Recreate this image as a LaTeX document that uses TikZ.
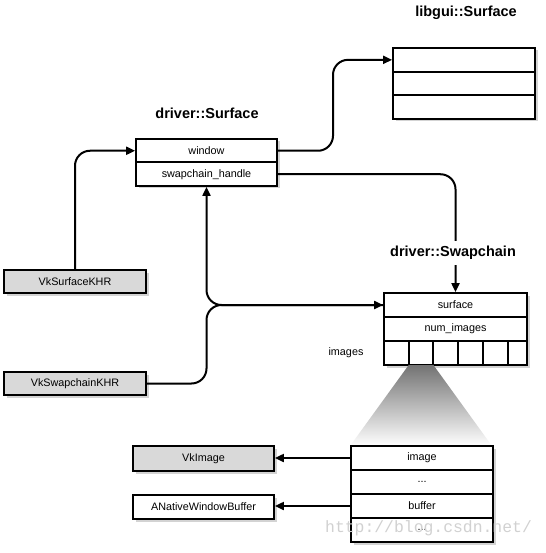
\documentclass[tikz,border=0pt]{standalone}
\usepackage{fontspec}
\setmainfont{Liberation Sans}
\newfontfamily\wmfont{Liberation Mono}
\usetikzlibrary{shadows,arrows.meta,calc}
\begin{document}
\begin{tikzpicture}[x=1pt,y=-1pt,
  frame/.style={draw, line width=2pt, fill=white, inner sep=0pt, outer sep=0pt,
    drop shadow={shadow xshift=2.5pt, shadow yshift=-2.5pt, opacity=0.35}},
  row/.style={draw, line width=2pt, inner sep=0pt, outer sep=0pt, minimum width=#1,
    font=\fontsize{10.8}{12}\selectfont, text=black},
  row/.default=141pt,
  ttl/.style={font=\fontsize{14.5}{17}\bfseries\selectfont, text=black},
  handle/.style={draw, line width=2pt, inner sep=0pt, outer sep=0pt, minimum width=142pt,
    minimum height=23pt, font=\fontsize{10.8}{12}\selectfont,
    drop shadow={shadow xshift=2.5pt, shadow yshift=-2.5pt, opacity=0.35}},
  conn/.style={line width=2pt, rounded corners=15pt, shorten >=0.9pt,
    -{Triangle[length=9pt,width=8pt]}}
]
\useasboundingbox (0,0) rectangle (545,553);

% libgui::Surface
\node[ttl] (tlib) at (466,13) {libgui::Surface};
\node[frame, minimum width=142pt, minimum height=71pt] (lib) at (464,83.5) {};
\node[row=142pt, minimum height=23.67pt, anchor=north] (lib1) at (lib.north) {};
\node[row=142pt, minimum height=23.67pt, anchor=north] (lib2) at (lib1.south) {};
\node[row=142pt, minimum height=23.67pt, anchor=north] (lib3) at (lib2.south) {};

% driver::Surface
\node[ttl] (tds) at (207,113) {driver::Surface};
\node[frame, minimum width=141pt, minimum height=47pt] (ds) at (206.5,162.5) {};
\node[row, minimum height=23.5pt, anchor=north] (win) at (ds.north) {window};
\node[row, minimum height=23.5pt, anchor=north] (swh) at (win.south) {swapchain\_handle};

% handles
\node[handle, fill=black!15] (vks) at (75,281.5) {VkSurfaceKHR};
\node[handle, fill=black!15] (vksw) at (75,383.5) {VkSwapchainKHR};

% driver::Swapchain
\node[frame, minimum width=143pt, minimum height=72pt] (sc) at (455.5,329) {};
\node[row=143pt, minimum height=24pt, anchor=north] (surf) at (sc.north) {surface};
\node[row=143pt, minimum height=24pt, anchor=north] (nimg) at (surf.south) {num\_images};
\node[row=24.7pt, minimum height=24pt, anchor=north west] (c1) at (nimg.south west) {};
\foreach \i [count=\j from 1] in {2,...,5}{
  \node[row=24.7pt, minimum height=24pt, anchor=north west] (c\i) at (c\j.north east) {};
}
\node[row=19.5pt, minimum height=24pt, anchor=north west] (c6) at (c5.north east) {};
\node[font=\fontsize{10.8}{12}\selectfont] (imgs) at (346,353) {images};

% funnel
\shade[top color=black!55, bottom color=white] (c2.south west) -- (c2.south east)
  -- (492,446) -- (350,446) -- cycle;

% buffer struct
\node[frame, minimum width=142pt, minimum height=96pt] (bs) at (422,494) {};
\node[row=142pt, minimum height=24pt, anchor=north] (bimg) at (bs.north) {image};
\node[row=142pt, minimum height=24pt, anchor=north] (bd1) at (bimg.south) {...};
\node[row=142pt, minimum height=24pt, anchor=north] (bbuf) at (bd1.south) {buffer};
\node[row=142pt, minimum height=24pt, anchor=north] (bd2) at (bbuf.south) {...};

\node[handle, fill=black!15, minimum width=141pt, minimum height=25pt] (vkimg) at (203.5,458.5) {VkImage};
\node[handle, fill=white, minimum width=141pt, minimum height=24pt] (anwb) at (203.5,507) {ANativeWindowBuffer};

% connectors
\draw[conn] (vks.north) |- (win.west);
\draw[conn] (win.east) -- ++(56,0) |- (lib1.west);
\draw[conn] (swh.east) -| (sc.north);
\draw[conn] (vksw.east) -| (ds.south |- surf.west) -- (surf.west);
\draw[conn] (surf.west) -| (ds.south);
\draw[conn] (bimg.west) -- (bimg.west -| vkimg.east);
\draw[conn] (bbuf.west) -- (bbuf.west -| anwb.east);

\node[ttl, fill=white, inner xsep=1pt, inner ysep=5pt] (tsc) at (453,253) {driver::Swapchain};

% watermark
\node[text=black!18, font=\wmfont\fontsize{16.4}{16}\selectfont, anchor=west, inner sep=0pt] (wm) at (325,528) {http://blog.csdn.net/};
\end{tikzpicture}
\end{document}
